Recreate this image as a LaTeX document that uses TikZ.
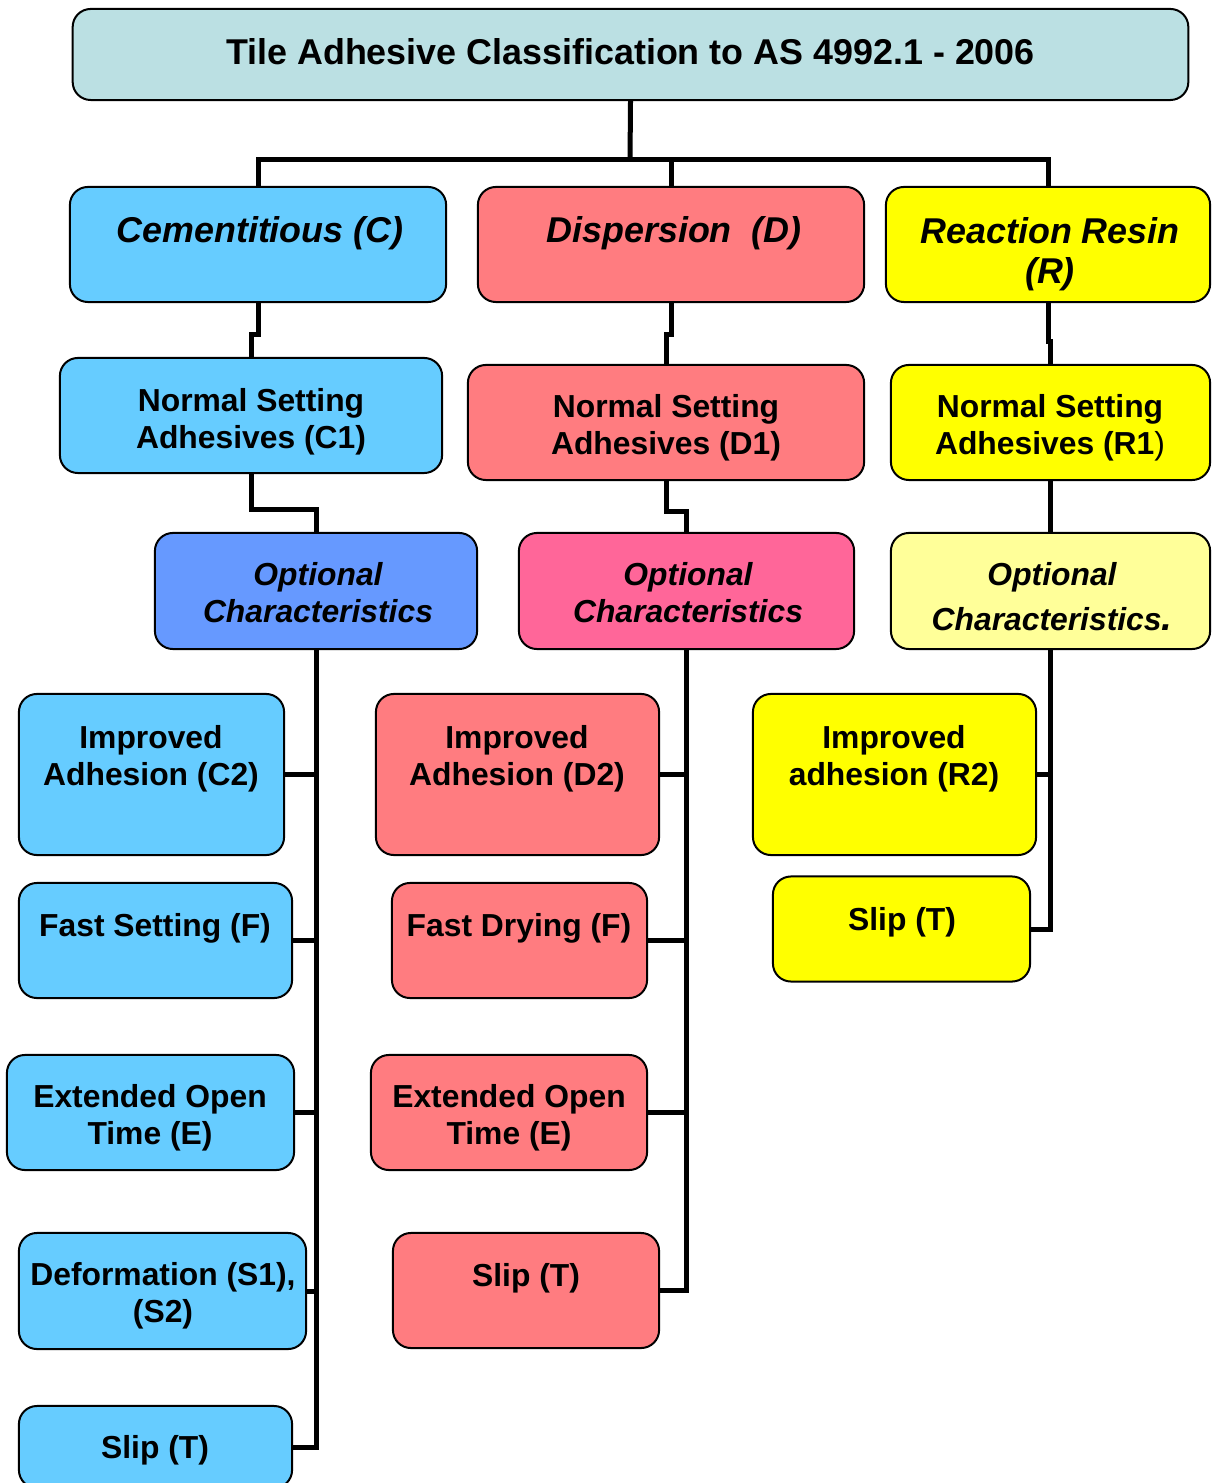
\documentclass[tikz,border=0pt]{standalone}
\usepackage{fontspec}
\setmainfont{Liberation Sans}
\definecolor{titlefill}{HTML}{BBE0E3}
\definecolor{cemfill}{HTML}{66CCFF}
\definecolor{dispfill}{HTML}{FF7C80}
\definecolor{resinfill}{HTML}{FFFF00}
\definecolor{optcfill}{HTML}{6699FF}
\definecolor{optdfill}{HTML}{FF6699}
\definecolor{optrfill}{HTML}{FFFF99}

\begin{document}
\begin{tikzpicture}[x=0.01cm, y=-0.01cm,
	box/.style={draw, line width=0.02cm, rounded corners=0.18cm, inner sep=0pt},
	conn/.style={line width=0.05cm},
	lbl/.style={align=center, inner sep=0pt, font=\fontsize{9.05}{10.5}\selectfont\bfseries},
	head/.style={align=center, inner sep=0pt, font=\fontsize{10.2}{11.4}\selectfont\bfseries\itshape}]
	\clip (0,0) rectangle (1219,1483);
	\node[box, fill=titlefill, minimum width=11.15cm, minimum height=0.91cm, text depth=0.06cm, font=\fontsize{10.2}{12}\selectfont\bfseries] (title) at (630.5,54.5) {Tile Adhesive Classification to AS 4992.1 - 2006};
	\node[box, fill=cemfill, minimum width=3.76cm, minimum height=1.15cm] (cem) at (258,244.5) {};
	\node[box, fill=dispfill, minimum width=3.86cm, minimum height=1.15cm] (disp) at (671,244.5) {};
	\node[box, fill=resinfill, minimum width=3.24cm, minimum height=1.15cm] (resin) at (1048,244.5) {};
	\node[head] (cemtxt) at (260,233.5) {Cementitious (C)};
	\node[head] (disptxt) at (674,233.5) {Dispersion\ \ (D)};
	\node[head] (resintxt) at (1050,254.5) {Reaction Resin\\(R)};
	\node[box, fill=cemfill, minimum width=3.82cm, minimum height=1.15cm] (c1) at (251,415.5) {};
	\node[box, fill=dispfill, minimum width=3.96cm, minimum height=1.15cm] (d1) at (666,422.5) {};
	\node[box, fill=resinfill, minimum width=3.19cm, minimum height=1.15cm] (r1) at (1050.5,422.5) {};
	\node[lbl] (c1txt) at (251,421.5) {Normal Setting\\Adhesives (C1)};
	\node[lbl] (d1txt) at (666,427.5) {Normal Setting\\Adhesives (D1)};
	\node[lbl] (r1txt) at (1050,427.5) {Normal Setting\\Adhesives (R1{\mdseries)}};
	\node[box, fill=optcfill, minimum width=3.22cm, minimum height=1.16cm] (optc) at (316,591) {};
	\node[box, fill=optdfill, minimum width=3.35cm, minimum height=1.16cm] (optd) at (686.5,591) {};
	\node[box, fill=optrfill, minimum width=3.19cm, minimum height=1.16cm] (optr) at (1050.5,591) {};
	\node[lbl, font=\fontsize{9.05}{10.5}\selectfont\bfseries\itshape] (optctxt) at (318,592.5) {Optional\\Characteristics};
	\node[lbl, font=\fontsize{9.05}{10.5}\selectfont\bfseries\itshape] (optdtxt) at (688,592.5) {Optional\\Characteristics};
	\node[lbl, font=\fontsize{9.05}{10.5}\selectfont\bfseries\itshape] (optrtxt) at (1052,596.5) {Optional\\[0.08cm]Characteristics{\fontsize{11}{11}\selectfont.}};
	\node[box, fill=cemfill, minimum width=2.65cm, minimum height=1.61cm] (c2) at (151.5,774.5) {};
	\node[box, fill=cemfill, minimum width=2.73cm, minimum height=1.15cm] (cf) at (155.5,940.5) {};
	\node[box, fill=cemfill, minimum width=2.87cm, minimum height=1.15cm] (ce) at (150.5,1112.5) {};
	\node[box, fill=cemfill, minimum width=2.87cm, minimum height=1.16cm] (cs) at (162.5,1291) {};
	\node[box, fill=cemfill, minimum width=2.73cm, minimum height=0.82cm] (ct) at (155.5,1447) {};
	\node[lbl] (c2txt) at (151,759) {Improved\\Adhesion (C2)};
	\node[lbl] (cftxt) at (155,928) {Fast Setting (F)};
	\node[lbl] (cetxt) at (150,1118) {Extended Open\\Time (E)};
	\node[lbl] (cstxt) at (163,1296) {Deformation (S1),\\(S2)};
	\node[lbl] (cttxt) at (155,1450) {Slip (T)};
	\node[box, fill=dispfill, minimum width=2.83cm, minimum height=1.61cm] (d2) at (517.5,774.5) {};
	\node[box, fill=dispfill, minimum width=2.55cm, minimum height=1.15cm] (df) at (519.5,940.5) {};
	\node[box, fill=dispfill, minimum width=2.76cm, minimum height=1.15cm] (de) at (509,1112.5) {};
	\node[box, fill=dispfill, minimum width=2.66cm, minimum height=1.15cm] (dt) at (526,1290.5) {};
	\node[lbl] (d2txt) at (517,759) {Improved\\Adhesion (D2)};
	\node[lbl] (dftxt) at (519,928) {Fast Drying (F)};
	\node[lbl] (detxt) at (509,1118) {Extended Open\\Time (E)};
	\node[lbl] (dttxt) at (526,1278) {Slip (T)};
	\node[box, fill=resinfill, minimum width=2.83cm, minimum height=1.61cm] (r2) at (894.5,774.5) {};
	\node[box, fill=resinfill, minimum width=2.57cm, minimum height=1.05cm] (rt) at (901.5,929) {};
	\node[lbl] (r2txt) at (894,759) {Improved\\adhesion (R2)};
	\node[lbl] (rttxt) at (902,922) {Slip (T)};
	\coordinate (bus) at (630,160);
	\draw[conn] (title.south) -- (bus);
	\draw[conn] (cem.north) |- (bus) -| (resin.north);
	\draw[conn] (disp.north) -- (disp.north |- bus);
	\draw[conn] (cem.south) -- ++(0,31) -| (c1.north);
	\draw[conn] (disp.south) -- ++(0,31) -| (d1.north);
	\draw[conn] (resin.south) -- ++(0,38) -| (r1.north);
	\draw[conn] (c1.south) -- ++(0,35) -| (optc.north);
	\draw[conn] (d1.south) -- ++(0,30) -| (optd.north);
	\draw[conn] (r1.south) -- (optr.north);
	\draw[conn] (optc.south) |- (ct.east);
	\draw[conn] (c2.east) -- (c2.east -| optc.south);
	\draw[conn] (cf.east) -- (cf.east -| optc.south);
	\draw[conn] (ce.east) -- (ce.east -| optc.south);
	\draw[conn] (cs.east) -- (cs.east -| optc.south);
	\draw[conn] (optd.south) |- (dt.east);
	\draw[conn] (d2.east) -- (d2.east -| optd.south);
	\draw[conn] (df.east) -- (df.east -| optd.south);
	\draw[conn] (de.east) -- (de.east -| optd.south);
	\draw[conn] (optr.south) |- (rt.east);
	\draw[conn] (r2.east) -- (r2.east -| optr.south);
\end{tikzpicture}
\end{document}
